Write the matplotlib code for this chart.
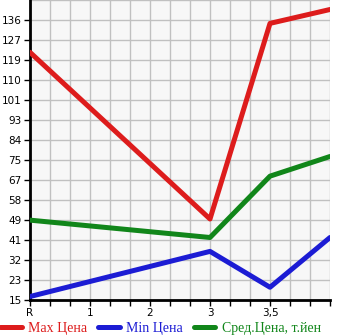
import matplotlib
matplotlib.use("Agg")
import matplotlib.pyplot as plt
from matplotlib.lines import Line2D

# x positions: R, 1, 2, 3, 3,5 and the right edge
x_labels = ["R", "1", "2", "3", "3,5"]
x_pts = [0, 3, 4, 5]

max_price = [122, 50, 134.5, 140.5]
min_price = [16.5, 36, 20.5, 42]
avg_price = [49.5, 42, 68.5, 77]

y_min, y_step = 15, 8.64
y_labels = [15, 23, 32, 41, 49, 58, 67, 75, 84, 93, 101, 110, 119, 127, 136]

fig = plt.figure(figsize=(3.45, 3.35), dpi=100)
ax = fig.add_axes([30 / 345, 35 / 335, 300 / 345, 300 / 335])
ax.set_facecolor("#f7f7f7")

ax.plot(x_pts, max_price, color="#dd1c1c", lw=3.6, solid_capstyle="round", zorder=3)
ax.plot(x_pts, avg_price, color="#11861a", lw=3.6, solid_capstyle="round", zorder=3)
ax.plot(x_pts, min_price, color="#1c1cd4", lw=3.6, solid_capstyle="round", zorder=3)

ax.set_xlim(0, 5)
ax.set_ylim(y_min, y_min + 15 * y_step)

ax.set_xticks(range(len(x_labels)))
ax.set_xticklabels(x_labels)
ax.set_xticks([i / 3 for i in range(16)], minor=True)
ax.set_yticks([y_min + i * y_step for i in range(len(y_labels))])
ax.set_yticklabels([str(v) for v in y_labels])
ax.set_yticks([y_min + i * y_step for i in range(16)], minor=True)

ax.grid(True, which="both", color="#c0c0c0", lw=1)
ax.set_axisbelow(True)
for s in ["top", "right"]:
    ax.spines[s].set_visible(False)
for s in ["left", "bottom"]:
    ax.spines[s].set_linewidth(2)
    ax.spines[s].set_color("black")

ax.tick_params(axis="both", which="both", length=4, width=1, color="black",
               labelsize=7.5, pad=2)
ax.tick_params(axis="y", which="minor", length=0)
ax.tick_params(axis="x", which="major", pad=1.5)

handles = [Line2D([], [], color="#dd1c1c", lw=3.6, solid_capstyle="round"),
           Line2D([], [], color="#1c1cd4", lw=3.6, solid_capstyle="round"),
           Line2D([], [], color="#11861a", lw=3.6, solid_capstyle="round")]
names = ["Max Цена", "Min Цена", "Сред.Цена, т.йен"]
leg = fig.legend(handles, names, loc="lower left", bbox_to_anchor=(0.0, 0.0),
                 ncol=3, frameon=False, borderpad=0, borderaxespad=0,
                 handlelength=1.55, handletextpad=0.5, columnspacing=0.75,
                 prop={"family": "Liberation Serif", "size": 10})
for txt, h in zip(leg.get_texts(), handles):
    txt.set_color(h.get_color())

fig.savefig("out.png", dpi=100)
